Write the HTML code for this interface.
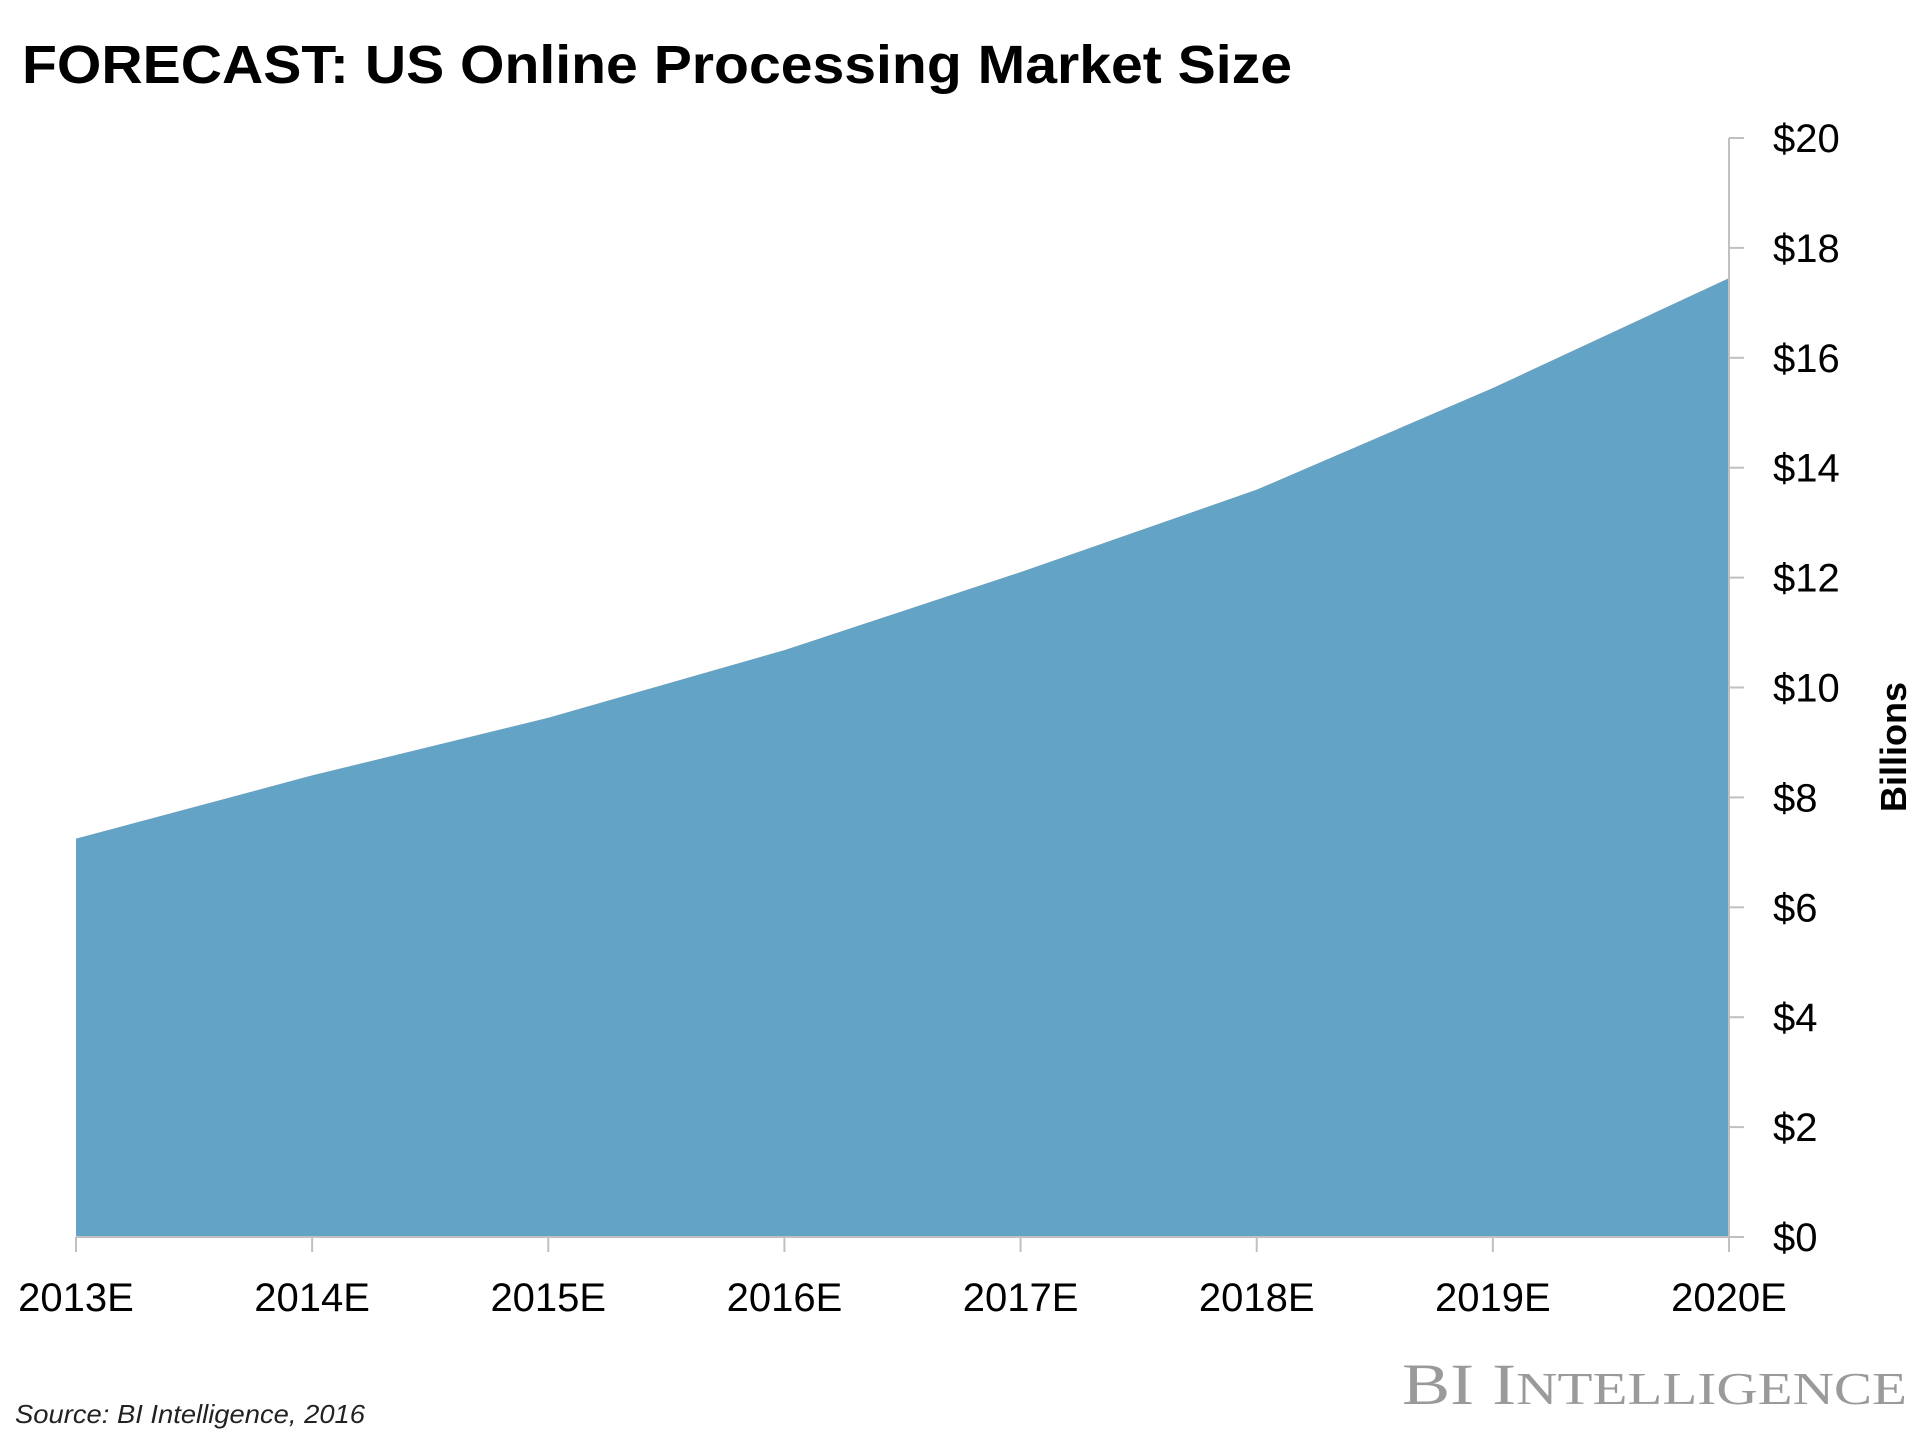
<!DOCTYPE html>
<html><head><meta charset="utf-8"><style>
html,body{margin:0;padding:0;background:#fff;width:1920px;height:1440px;overflow:hidden}
svg{display:block}
</style></head><body>
<svg id="chart" width="1920" height="1440" xmlns="http://www.w3.org/2000/svg" font-family="Liberation Sans, sans-serif">
<text x="22" y="83" font-size="54" font-weight="bold" textLength="1270" lengthAdjust="spacingAndGlyphs" fill="#000">FORECAST: US Online Processing Market Size</text>
<g id="plot"></g>
<text transform="translate(1906,747) rotate(-90)" text-anchor="middle" font-size="36" font-weight="bold" fill="#000">Billions</text>
<text x="15" y="1423" font-size="26" font-style="italic" fill="#222" textLength="350" lengthAdjust="spacingAndGlyphs">Source: BI Intelligence, 2016</text>
<text x="1402" y="1404" font-family="Liberation Serif, serif" font-size="58" fill="#9a9a9a" textLength="505" lengthAdjust="spacingAndGlyphs">BI I<tspan font-size="46">NTELLIGENCE</tspan></text>
</svg>
<script>
const categories = ["2013E","2014E","2015E","2016E","2017E","2018E","2019E","2020E"];
const values = [7.25, 8.4, 9.45, 10.68, 12.1, 13.6, 15.45, 17.45];
const yTicks = [0,2,4,6,8,10,12,14,16,18,20];
const yTickLabels = ["$0","$2","$4","$6","$8","$10","$12","$14","$16","$18","$20"];

const X0 = 76, X1 = 1729, Y0 = 1237, Y1 = 138, YMAX = 20;
const NS = "http://www.w3.org/2000/svg";
function xScale(i){ return X0 + (X1 - X0) * i / (categories.length - 1); }
function yScale(v){ return Y0 - (Y0 - Y1) * v / YMAX; }
const g = document.getElementById('plot');
function mk(tag, attrs){ const e = document.createElementNS(NS, tag); for (const k in attrs) e.setAttribute(k, attrs[k]); g.appendChild(e); return e; }

let d = "M" + xScale(0) + "," + yScale(0);
values.forEach((v,i)=>{ d += " L" + xScale(i) + "," + yScale(v); });
d += " L" + xScale(values.length-1) + "," + yScale(0) + " Z";
const area = mk('path', {d: d, fill: '#62a3c6'});



const xa = mk('line', {x1: X0, y1: Y0, x2: X1, y2: Y0, stroke: '#c0c0c0', 'stroke-width': 2});


const ya = mk('line', {x1: X1, y1: Y1, x2: X1, y2: Y0, stroke: '#c0c0c0', 'stroke-width': 2});



categories.forEach((c,i)=>{
  const x = xScale(i);
  const t = mk('line', {x1: x, y1: Y0, x2: x, y2: Y0 + 15, stroke: '#c0c0c0', 'stroke-width': 2});
  
  
  const lb = mk('text', {x: x, y: Y0 + 74, 'text-anchor': 'middle', 'font-size': 40, fill: '#000'});
  lb.textContent = c;
  
  
});
yTicks.forEach((v,i)=>{
  const y = yScale(v);
  const t = mk('line', {x1: X1, y1: y, x2: X1 + 15, y2: y, stroke: '#c0c0c0', 'stroke-width': 2});
  
  
  const lb = mk('text', {x: 1773, y: y + 14, 'font-size': 40, fill: '#000'});
  lb.textContent = yTickLabels[i];
  
  
});
</script>
</body></html>
